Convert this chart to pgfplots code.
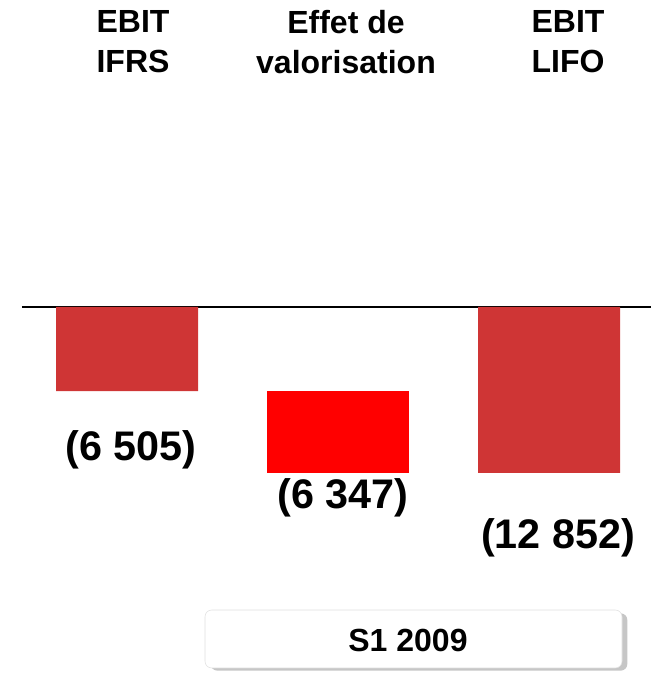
\documentclass[border=0pt]{standalone}
\usepackage{fontspec}
\setmainfont{Liberation Sans}
\usepackage{pgfplots}
\pgfplotsset{compat=1.18}
\definecolor{barred}{HTML}{CF3535}
\definecolor{brightred}{HTML}{FF0000}
\begin{document}
\begin{tikzpicture}
\begin{axis}[
    hide axis, scale only axis,
    width=488.25pt, height=505.5pt,
    xmin=-0.602, xmax=2.483, ymin=-28413, ymax=23768,
    ybar stacked, bar width=0.673,
]
% invisible base under the floating bar
\addplot[draw=none, fill=white, opacity=0] coordinates {(0,0) (1,-6505) (2,0)};
\addplot[draw=none, fill=barred] coordinates {(0,-6505) (1,0) (2,-12852)};
\addplot[draw=none, fill=brightred] coordinates {(0,0) (1,-6347) (2,0)};
\draw[line width=2.2pt] (axis cs:-0.498,0) -- (axis cs:2.483,0);
\end{axis}
\useasboundingbox (0,0) rectangle (488.25pt,505.5pt);

% headers
\node[font=\fontsize{24}{30}\selectfont\bfseries, align=center] at (99.75pt,474pt) {EBIT\\IFRS};
\node[font=\fontsize{24}{30}\selectfont\bfseries, align=center] at (259.5pt,474pt) {Effet de\\valorisation};
\node[font=\fontsize{24}{30}\selectfont\bfseries, align=center] at (426pt,474pt) {EBIT\\LIFO};

% values
\node[font=\fontsize{31}{36}\selectfont\bfseries] at (98.25pt,168pt) {(6 505)};
\node[font=\fontsize{31}{36}\selectfont\bfseries] at (257.25pt,132pt) {(6 347)};
\node[font=\fontsize{31}{36}\selectfont\bfseries] at (418.5pt,102pt) {(12 852)};

% period box
\fill[gray!45, rounded corners=5pt] (158pt,2.5pt) rectangle (470.5pt,45.5pt);
\draw[gray!25, fill=white, rounded corners=5pt] (153.75pt,4.5pt) rectangle (466.5pt,48pt);
\node[font=\fontsize{24}{30}\selectfont\bfseries] at (306pt,25.5pt) {S1 2009};
\end{tikzpicture}
\end{document}
